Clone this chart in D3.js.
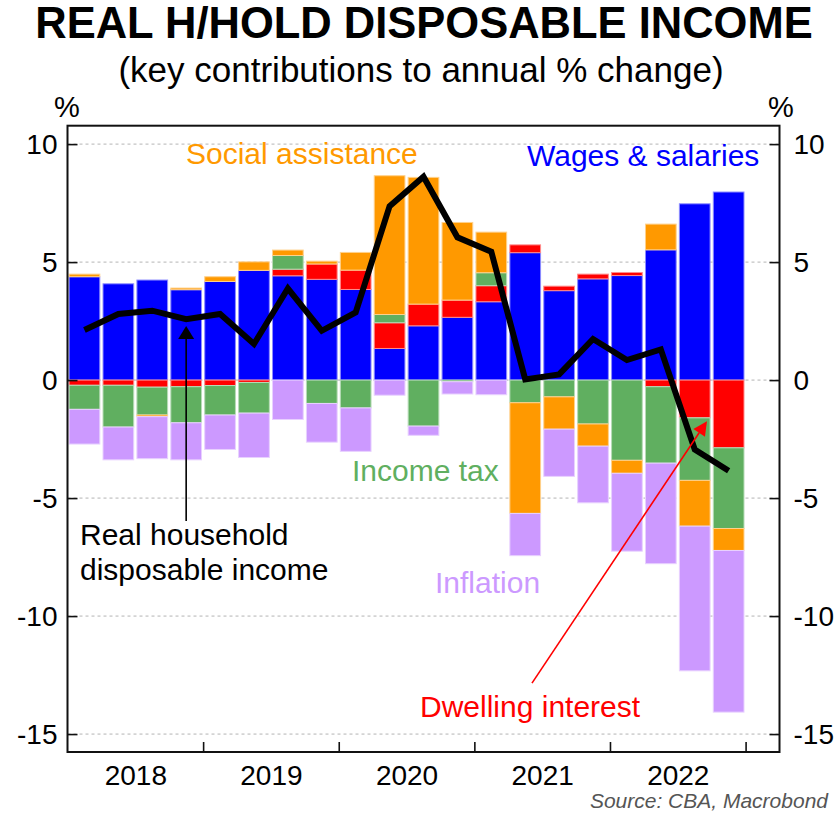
<!DOCTYPE html>
<html>
<head>
<meta charset="utf-8">
<script src="https://cdn.jsdelivr.net/npm/d3@7"></script>
<style>
  html, body { margin: 0; padding: 0; background: #fff; }
  svg { display: block; font-family: "Liberation Sans", Arial, Helvetica, sans-serif; }
</style>
</head>
<body>
<script>
// Quarterly contributions to annual % change in real household disposable income
const quarters = ["2018Q1","2018Q2","2018Q3","2018Q4","2019Q1","2019Q2","2019Q3","2019Q4",
                  "2020Q1","2020Q2","2020Q3","2020Q4","2021Q1","2021Q2","2021Q3","2021Q4",
                  "2022Q1","2022Q2","2022Q3","2022Q4"];
const wages            = [4.38, 4.08, 4.24, 3.83, 4.18, 4.65, 4.42, 4.27, 3.84, 1.34, 2.30, 2.66, 3.32, 5.40, 3.79, 4.29, 4.43, 5.52, 7.47, 7.97];
const dwellingInterest = [-0.22, -0.22, -0.30, -0.28, -0.23, -0.10, 0.28, 0.65, 0.82, 1.09, 0.92, 0.73, 0.68, 0.33, 0.19, 0.20, 0.13, -0.28, -1.60, -2.87];
const incomeTax        = [-1.02, -1.77, -1.18, -1.53, -1.25, -1.30, 0.58, -0.99, -1.18, 0.35, -1.95, -0.07, 0.55, -0.96, -0.71, -1.86, -3.40, -3.24, -2.65, -3.42];
const socialAssistance = [0.11, 0.00, -0.07, 0.07, 0.20, 0.36, 0.23, 0.12, 0.75, 5.88, 5.37, 3.29, 1.72, -4.69, -1.37, -0.94, -0.55, 1.09, -1.94, -0.93];
const inflation        = [-1.47, -1.39, -1.78, -1.57, -1.46, -1.88, -1.67, -1.64, -1.84, -0.64, -0.39, -0.52, -0.62, -1.79, -2.00, -2.40, -3.30, -4.26, -6.13, -6.85];
const realHDI          = [2.12, 2.80, 2.94, 2.58, 2.80, 1.53, 3.88, 2.09, 2.87, 7.37, 8.62, 6.05, 5.44, 0.03, 0.24, 1.74, 0.85, 1.30, -2.94, -3.84];

const years  = ["2018", "2019", "2020", "2021", "2022"];
const yTicks = [10, 5, 0, -5, -10, -15];

const seriesKeys   = ["wages", "dwelling", "tax", "social", "inflation"];
const seriesColors = ["#0000ff", "#ff0000", "#60af60", "#ff9900", "#cc99ff"];

// ---- layout ----
const W = 836, H = 813;
const plot = { left: 67.5, right: 779.5, top: 125.7, bottom: 752 };
const font = "'Liberation Sans', Arial, Helvetica, sans-serif";

const svg = d3.select("body").append("svg").attr("width", W).attr("height", H);

// quarter index scale: 20 quarters plus one empty slot at the end
const x = d3.scaleLinear().domain([0, 21]).range([plot.left, plot.right]);
const y = d3.scaleLinear().domain([-15.76, 10.78]).range([plot.bottom, plot.top]);

// rows for stacking
const rows = quarters.map((q, i) => ({
  i, q,
  wages: wages[i], dwelling: dwellingInterest[i], tax: incomeTax[i],
  social: socialAssistance[i], inflation: inflation[i]
}));
const stacked = d3.stack().keys(seriesKeys).offset(d3.stackOffsetDiverging)(rows);

// ---- titles ----
svg.append("text")
  .attr("x", 424).attr("y", 38).attr("text-anchor", "middle")
  .attr("font-size", 43.5).attr("font-weight", "bold").attr("fill", "#000")
  .text("REAL H/HOLD DISPOSABLE INCOME");
svg.append("text")
  .attr("x", 421).attr("y", 82).attr("text-anchor", "middle")
  .attr("font-size", 35).attr("fill", "#000")
  .text("(key contributions to annual % change)");
svg.append("text").attr("x", 54).attr("y", 117).attr("font-size", 29).text("%");
svg.append("text").attr("x", 768).attr("y", 117).attr("font-size", 29).text("%");

// ---- gridlines ----
svg.append("g").selectAll("line").data(yTicks).join("line")
  .attr("x1", plot.left).attr("x2", plot.right)
  .attr("y1", d => y(d)).attr("y2", d => y(d))
  .attr("stroke", "#b4b4b4").attr("stroke-width", 1).attr("stroke-dasharray", "3,3");

// ---- stacked bars ----
const slot = x(1) - x(0);
const gap = 3.2;
const barG = svg.append("g");
stacked.forEach((s, k) => {
  const col = seriesColors[k];
  const edge = d3.interpolateRgb(col, "#ffffff")(0.55);
  barG.append("g").selectAll("rect").data(s.filter(d => d[1] !== d[0])).join("rect")
    .attr("x", d => x(d.data.i) + gap / 2)
    .attr("width", slot - gap)
    .attr("y", d => y(Math.max(d[0], d[1])))
    .attr("height", d => Math.abs(y(d[0]) - y(d[1])))
    .attr("fill", col)
    .attr("stroke", edge).attr("stroke-width", 1);
});

// ---- real household disposable income line ----
const line = d3.line().x((d, i) => x(i + 0.5)).y(d => y(d)).curve(d3.curveLinear);
svg.append("path").datum(realHDI)
  .attr("d", line).attr("fill", "none")
  .attr("stroke", "#000").attr("stroke-width", 6)
  .attr("stroke-linejoin", "miter").attr("stroke-linecap", "butt");

// ---- frame and axes ----
svg.append("rect")
  .attr("x", plot.left).attr("y", plot.top)
  .attr("width", plot.right - plot.left).attr("height", plot.bottom - plot.top)
  .attr("fill", "none").attr("stroke", "#111").attr("stroke-width", 2);

function styleAxis(g) {
  g.select(".domain").remove();
  g.selectAll(".tick line").attr("stroke", "#111").attr("stroke-width", 1.6);
  g.selectAll(".tick text").attr("fill", "#000").attr("font-family", font).attr("font-size", 28);
}
const plain = d => String(d);   // hyphen-minus for negative labels

svg.append("g").attr("transform", `translate(${plot.left},0)`)
  .call(d3.axisLeft(y).tickValues(yTicks).tickSize(-10).tickPadding(10).tickFormat(plain))
  .call(styleAxis);
svg.append("g").attr("transform", `translate(${plot.right},0)`)
  .call(d3.axisRight(y).tickValues(yTicks).tickSize(-10).tickPadding(14).tickFormat(plain))
  .call(styleAxis);

// year boundary ticks
svg.append("g").attr("transform", `translate(0,${plot.bottom})`)
  .call(d3.axisBottom(x).tickValues([4, 8, 12, 16, 20]).tickSize(-10).tickFormat(""))
  .call(styleAxis);
// year labels centred on each group of four quarters
svg.append("g").attr("transform", `translate(0,${plot.bottom})`)
  .call(d3.axisBottom(x).tickValues([2, 6, 10, 14, 18]).tickSize(0).tickPadding(13)
        .tickFormat((d, i) => years[i]))
  .call(styleAxis);

// ---- annotations ----
function label(txt, px, py, color) {
  svg.append("text").attr("x", px).attr("y", py)
    .attr("font-size", 30).attr("fill", color).text(txt);
}
label("Social assistance", 186, 164, "#ff9900");
label("Wages & salaries", 527, 166, "#0000ff");
label("Income tax", 352, 481, "#60af60");
label("Real household", 80, 545, "#000");
label("disposable income", 80, 580, "#000");
label("Inflation", 435, 593, "#cc99ff");
label("Dwelling interest", 420, 717, "#ff0000");

// arrows given in data space: [quarter index, value]
function arrow(from, to, color, width, headLen, headHalf) {
  const x1 = x(from[0]), y1 = y(from[1]), x2 = x(to[0]), y2 = y(to[1]);
  const ang = Math.atan2(y2 - y1, x2 - x1);
  const bx = x2 - headLen * Math.cos(ang), by = y2 - headLen * Math.sin(ang);
  svg.append("line").attr("x1", x1).attr("y1", y1).attr("x2", bx).attr("y2", by)
    .attr("stroke", color).attr("stroke-width", width);
  const px = -Math.sin(ang), py = Math.cos(ang);
  svg.append("path")
    .attr("d", `M${x2},${y2}L${bx + px * headHalf},${by + py * headHalf}L${bx - px * headHalf},${by - py * headHalf}Z`)
    .attr("fill", color);
}
arrow([3.5, -5.97], [3.5, 2.29], "#000", 1.6, 13, 8);
arrow([13.7, -12.84], [18.86, -1.74], "#ff0000", 1.6, 14, 7);

// ---- source ----
svg.append("text").attr("x", 828).attr("y", 808).attr("text-anchor", "end")
  .attr("font-size", 21).attr("font-style", "italic").attr("fill", "#555")
  .text("Source: CBA, Macrobond");
</script>
</body>
</html>
